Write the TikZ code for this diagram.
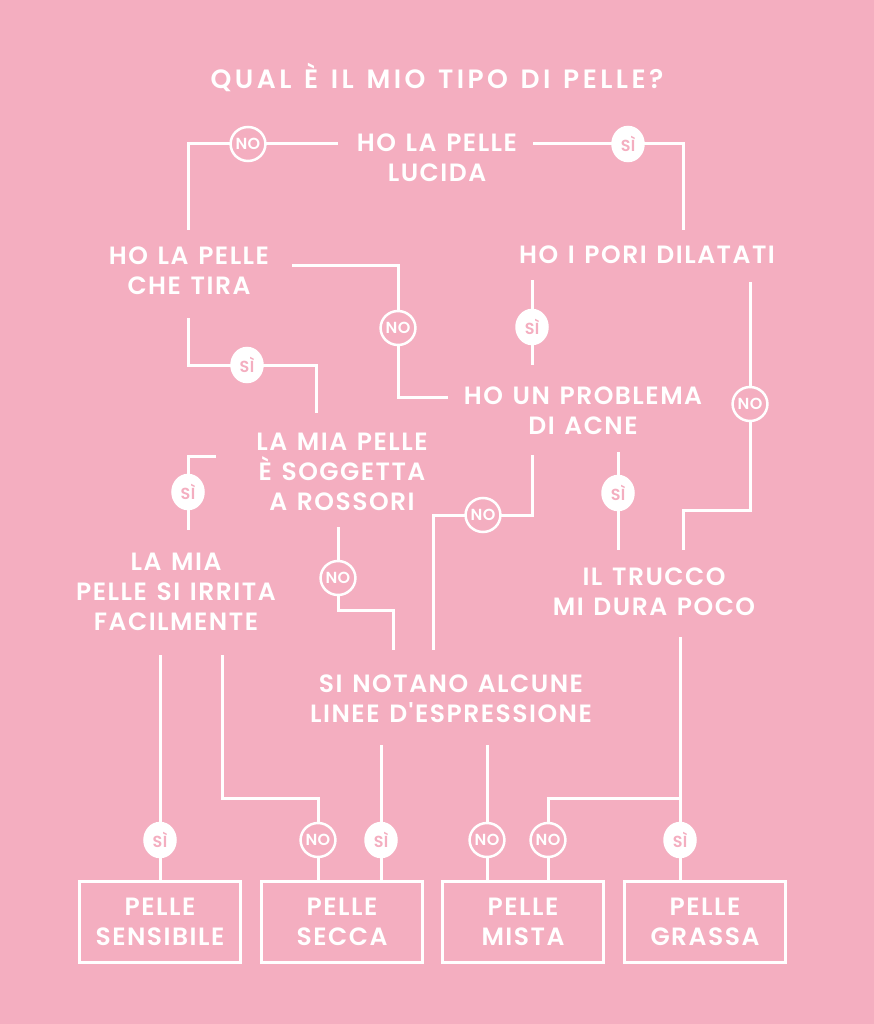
\documentclass[tikz,border=0pt]{standalone}
\usepackage{fontspec}
\newfontfamily\bodyfont{Poppins}[UprightFont=* SemiBold, LetterSpace=6, WordSpace=1.3]
\newfontfamily\titlefont{Poppins}[UprightFont=* SemiBold, LetterSpace=13, WordSpace=1.3]
\newfontfamily\dotfont{Poppins}[UprightFont=* SemiBold, LetterSpace=2]
\usetikzlibrary{shapes.geometric}
\definecolor{bgpink}{HTML}{F4AEC0}
\tikzset{
  conn/.style={draw=white, line width=3pt},
  qtext/.style={text=white, align=center, font=\bodyfont\fontsize{25}{30}\selectfont, inner sep=0pt},
  ttext/.style={text=white, align=center, font=\titlefont\fontsize{26.5}{30}\selectfont, inner sep=0pt},
  yesdot/.style={ellipse, fill=white, draw=white, line width=2.5pt, minimum width=31pt, minimum height=34pt, inner sep=0pt, text=bgpink, font=\dotfont\fontsize{16}{16}\selectfont},
  nodot/.style={ellipse, fill=bgpink, draw=white, line width=2.5pt, minimum width=31pt, minimum height=34pt, inner sep=0pt, text=white, font=\dotfont\fontsize{16}{16}\selectfont},
  result/.style={draw=white, line width=3pt, minimum width=161pt, minimum height=81pt, text=white, align=center, font=\bodyfont\fontsize{25}{30}\selectfont, inner sep=0pt}
}
\begin{document}
\begin{tikzpicture}[x=1pt,y=-1pt]
\fill[bgpink] (0,0) rectangle (874,1024);
\useasboundingbox (0,0) rectangle (874,1024);

% texts
\node[ttext] (title) at (437,77) {QUAL È IL MIO TIPO DI PELLE?};
\node[qtext] (q1) at (437,158) {HO LA PELLE\\LUCIDA};
\node[qtext] (q2) at (189,271) {HO LA PELLE\\CHE TIRA};
\node[qtext] (q3) at (647,255) {HO I PORI DILATATI};
\node[qtext] (q4) at (583,411) {HO UN PROBLEMA\\DI ACNE};
\node[qtext] (q5) at (342,472) {LA MIA PELLE\\È SOGGETTA\\A ROSSORI};
\node[qtext] (q6) at (451,699) {SI NOTANO ALCUNE\\LINEE D'ESPRESSIONE};
\node[qtext] (q7) at (654,592) {IL TRUCCO\\MI DURA POCO};
\node[qtext] (q8) at (176,592) {LA MIA\\PELLE SI IRRITA\\FACILMENTE};

% result boxes
\node[result] (r1) at (160,921.5) {PELLE\\SENSIBILE};
\node[result] (r2) at (342,921.5) {PELLE\\SECCA};
\node[result] (r3) at (523,921.5) {PELLE\\MISTA};
\node[result] (r4) at (705,921.5) {PELLE\\GRASSA};

% coordinates
\coordinate (a1) at (338,144);
\coordinate (a2) at (533,144);
\coordinate (b1) at (292,265);
\coordinate (b2) at (188,318);
\coordinate (b3) at (532,280);
\coordinate (b4) at (750,282);
\coordinate (d1) at (532,455);
\coordinate (d2) at (618,452);
\coordinate (e1) at (216,456);
\coordinate (e2) at (338,527);
\coordinate (f1) at (160,655);
\coordinate (f2) at (222,655);
\coordinate (g1) at (381,745);
\coordinate (g2) at (487,745);
\coordinate (h1) at (680,637);

% connectors
\draw[conn] (a1) -- (188,144) -- (188,230);
\draw[conn] (a2) -- (683,144) -- (683,230);
\draw[conn] (b1) -- (398,265) -- (398,397) -- (448,397);
\draw[conn] (b2) -- (188,365) -- (316,365) -- (316,413);
\draw[conn] (b3) -- (532,365);
\draw[conn] (b4) -- (750,510) -- (683,510) -- (683,550);
\draw[conn] (d1) -- (532,515) -- (433,515) -- (433,650);
\draw[conn] (d2) -- (618,550);
\draw[conn] (e1) -- (188,456) -- (188,530);
\draw[conn] (e2) -- (338,610) -- (393,610) -- (393,650);
\draw[conn] (f1) -- (r1.north -| f1);
\draw[conn] (f2) -- (222,798) -- (318,798) -- (r2.north -| 318,0);
\draw[conn] (g1) -- (r2.north -| g1);
\draw[conn] (g2) -- (r3.north -| g2);
\draw[conn] (h1) -- (r4.north -| h1);
\draw[conn] (680,798) -- (548,798) -- (r3.north -| 548,0);

% answer dots
\node[nodot]  (c1) at (248,144) {NO};
\node[yesdot] (c2) at (628,144) {SÌ};
\node[nodot]  (c3) at (398,328) {NO};
\node[yesdot] (c4) at (247,365) {SÌ};
\node[yesdot] (c5) at (532,327) {SÌ};
\node[nodot]  (c6) at (750,404) {NO};
\node[nodot]  (c7) at (483,515) {NO};
\node[yesdot] (c8) at (618,493) {SÌ};
\node[yesdot] (c9) at (188,492) {SÌ};
\node[nodot]  (c10) at (338,578) {NO};
\node[yesdot] (c11) at (160,840) {SÌ};
\node[nodot]  (c12) at (318,840) {NO};
\node[yesdot] (c13) at (381,840) {SÌ};
\node[nodot]  (c14) at (487,840) {NO};
\node[nodot]  (c15) at (548,840) {NO};
\node[yesdot] (c16) at (680,840) {SÌ};
\end{tikzpicture}
\end{document}
